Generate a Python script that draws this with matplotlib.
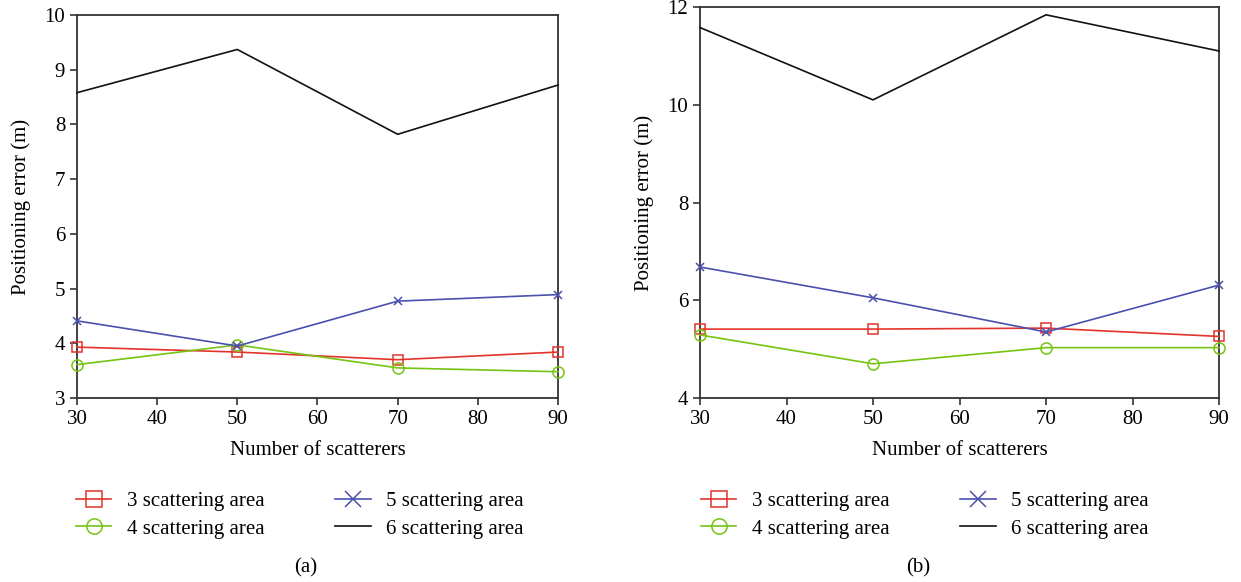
import numpy as np
import matplotlib.pyplot as plt
from matplotlib.lines import Line2D

plt.rcParams['font.family'] = ['Liberation Serif', 'DejaVu Serif']

scatterers = [30, 50, 70, 90]
labels = ['3 scattering area', '4 scattering area', '5 scattering area', '6 scattering area']

# panel (a)
a_area3 = [3.93, 3.84, 3.70, 3.84]
a_area4 = [3.61, 3.97, 3.55, 3.48]
a_area5 = [4.41, 3.95, 4.77, 4.89]
a_area6 = [8.58, 9.37, 7.82, 8.72]

# panel (b)
b_area3 = [5.41, 5.41, 5.43, 5.26]
b_area4 = [5.29, 4.70, 5.03, 5.03]
b_area5 = [6.68, 6.05, 5.35, 6.31]
b_area6 = [11.58, 10.10, 11.84, 11.10]

red = '#e3342b'
green = '#76c411'
blue = '#4a50ad'
black = '#111111'
spine_col = '#333333'
fs = 15

fig = plt.figure(figsize=(12.41, 5.82), dpi=100)
ax_a = fig.add_axes([77/1241, 1 - 398/582, 481/1241, 383/582])
ax_b = fig.add_axes([700/1241, 1 - 398/582, 519/1241, 391/582])


def draw(ax, s3, s4, s5, s6, ylim, yticks):
    kw = dict(lw=1.2, clip_on=False, zorder=3)
    ax.plot(scatterers, s3, color=red, marker='s', ms=6.5, mfc='none', mec=red, mew=1.1, **kw)
    ax.plot(scatterers, s4, color=green, marker='o', ms=8, mfc='none', mec=green, mew=1.1, **kw)
    ax.plot(scatterers, s5, color=blue, marker='x', ms=6, mec=blue, mew=1.1, **kw)
    ax.plot(scatterers, s6, color=black, **kw)
    ax.set_xlim(30, 90)
    ax.set_ylim(*ylim)
    ax.set_xticks(np.arange(30, 91, 10))
    ax.set_yticks(yticks)
    ax.tick_params(direction='out', length=5, width=1.2, color=spine_col, labelsize=fs)
    for s in ax.spines.values():
        s.set_color(spine_col)
        s.set_linewidth(1.3)
    ax.set_xlabel('Number of scatterers', fontsize=fs, labelpad=9)
    ax.set_ylabel('Positioning error (m)', fontsize=fs, labelpad=10)


draw(ax_a, a_area3, a_area4, a_area5, a_area6, (3, 10), np.arange(3, 11, 1))
draw(ax_b, b_area3, b_area4, b_area5, b_area6, (4, 12), np.arange(4, 13, 2))

handles = [
    Line2D([], [], color=red, lw=1.2, marker='s', ms=11, mfc='none', mec=red, mew=1.1),
    Line2D([], [], color=green, lw=1.2, marker='o', ms=11, mfc='none', mec=green, mew=1.1),
    Line2D([], [], color=blue, lw=1.2, marker='x', ms=11, mec=blue, mew=1.1),
    Line2D([], [], color=black, lw=1.2),
]

for cx in [300/1241, 925/1241]:
    fig.legend(handles, labels, loc='center', bbox_to_anchor=(cx, 1 - 515/582), ncol=2,
               frameon=False, fontsize=fs, handlelength=1.7, handletextpad=0.75,
               columnspacing=3.4, labelspacing=0.4)

fig.text(306/1241, 1 - 568/582, '(a)', ha='center', va='center', fontsize=fs)
fig.text(918/1241, 1 - 568/582, '(b)', ha='center', va='center', fontsize=fs)

fig.savefig('out.png', dpi=100, facecolor='white')
